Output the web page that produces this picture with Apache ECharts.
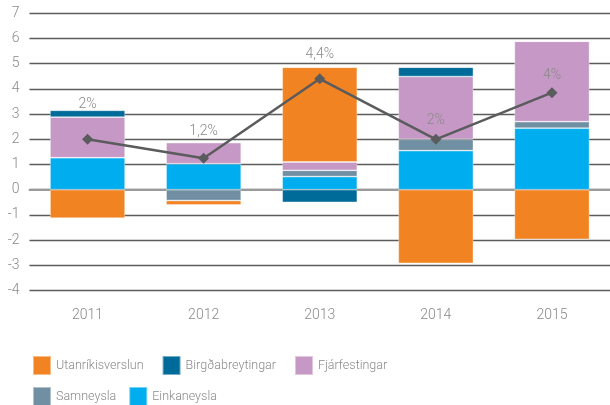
<!DOCTYPE html>
<html>
<head>
<meta charset="utf-8">
<script src="https://cdn.jsdelivr.net/npm/echarts@6/dist/echarts.min.js"></script>
<style>
  html, body { margin: 0; padding: 0; background: #fff; }
  #chart { width: 610px; height: 405px; }
</style>
</head>
<body>
<div id="chart"></div>
<script>
const years = ['2011', '2012', '2013', '2014', '2015']

// framlag til hagvaxtar, prósentustig
const einkaneysla = [1.27, 1.03, 0.52, 1.55, 2.44]
const samneysla = [0, -0.43, 0.25, 0.45, 0.26]
const fjarfestingar = [1.61, 0.84, 0.33, 2.49, 3.19]
const birgdabreytingar = [0.27, 0, -0.5, 0.37, 0]
const utanrikisverslun = [-1.13, -0.17, 3.76, -2.92, -1.97]

const hagvoxtur = [2, 1.25, 4.4, 2, 3.85]
const hagvoxturLabels = ['2%', '1,2%', '4,4%', '2%', '4%']

const font = 'Roboto'
const grey = '#8a8a8a'

// how far each growth label sits above its marker
const labelDistance = [22, 14, 12, 6, 5]

function barSeries(name, data, color) {
  return {
    name: name,
    type: 'bar',
    stack: 'framlag',
    barWidth: '64.7%',
    itemStyle: { color: color, borderColor: 'rgba(255,255,255,0.45)', borderWidth: 0.8 },
    data: data
  }
}

const chart = echarts.init(document.getElementById('chart'))

const legendText = { fontFamily: font, fontWeight: 300, fontSize: 12.5, color: grey }

chart.setOption({
  animation: false,
  textStyle: { fontFamily: font },
  grid: { left: 29.5, right: -4, top: 13.3, bottom: 114.5 },
  legend: [
    {
      data: ['Utanríkisverslun', 'Birgðabreytingar', 'Fjárfestingar'],
      left: 32, top: 355, padding: 0,
      icon: 'rect', itemWidth: 18, itemHeight: 19, itemGap: 18,
      textStyle: legendText
    },
    {
      data: ['Samneysla', 'Einkaneysla'],
      left: 32, top: 386, padding: 0,
      icon: 'rect', itemWidth: 18, itemHeight: 19, itemGap: 12,
      textStyle: legendText
    }
  ],
  xAxis: {
    type: 'category',
    data: years,
    axisTick: { show: false },
    axisLine: { onZero: true, lineStyle: { color: '#9a9a9a', width: 2 } },
    axisLabel: {
      color: grey, fontSize: 14, fontWeight: 300, margin: 18,
      fontFamily: font
    }
  },
  yAxis: {
    type: 'value',
    min: -4, max: 7, interval: 1,
    axisLine: { show: false },
    axisTick: { show: false },
    axisLabel: { color: grey, fontSize: 14, fontWeight: 300, margin: 10, fontFamily: font },
    splitLine: { lineStyle: { color: '#5c5c5c', width: 1.4 } }
  },
  series: [
    barSeries('Einkaneysla', einkaneysla, '#00adee'),
    barSeries('Samneysla', samneysla, '#718fa2'),
    barSeries('Fjárfestingar', fjarfestingar, '#c698c5'),
    barSeries('Birgðabreytingar', birgdabreytingar, '#006a98'),
    barSeries('Utanríkisverslun', utanrikisverslun, '#f28322'),
    {
      name: 'Hagvöxtur',
      type: 'line',
      symbol: 'diamond',
      symbolSize: 11,
      z: 5,
      lineStyle: { color: '#5a5b5d', width: 2.5 },
      itemStyle: { color: '#5a5b5d' },
      data: hagvoxtur.map((v, i) => ({
        value: v,
        label: {
          show: true,
          position: 'top',
          distance: labelDistance[i],
          formatter: hagvoxturLabels[i],
          color: grey, fontSize: 14, fontWeight: 300, fontFamily: font
        }
      }))
    }
  ]
})
</script>
</body>
</html>
